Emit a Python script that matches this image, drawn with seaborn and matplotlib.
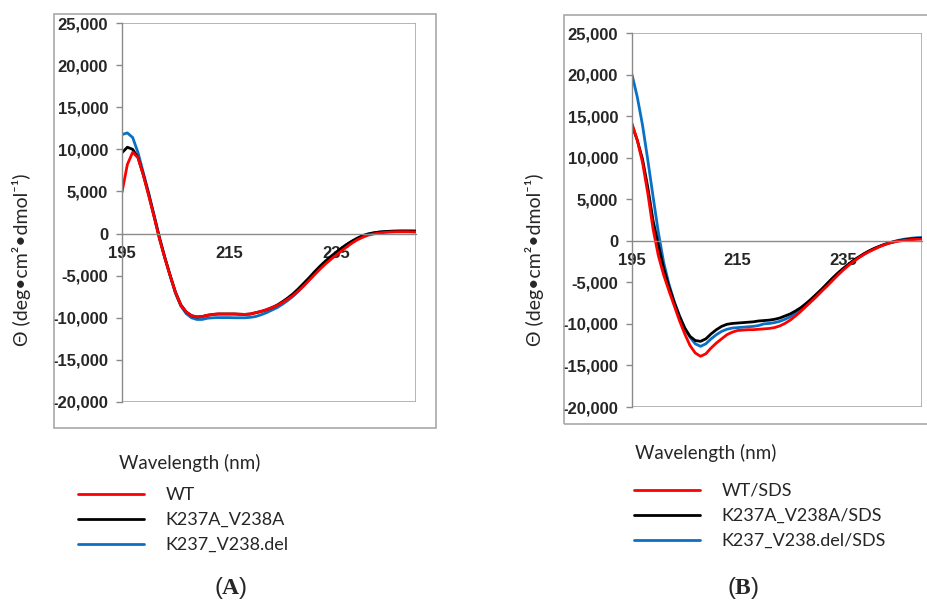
import numpy as np
import pandas as pd
import seaborn as sns
import matplotlib.pyplot as plt
from matplotlib.patches import Rectangle
from matplotlib.ticker import FuncFormatter

# wavelength grid (nm)
wavelength = list(range(195, 251))

# panel A - no SDS
wt = [4900, 8200, 9650, 9000, 6900, 4500, 2000, -600, -2900, -5000,
      -7000, -8500, -9300, -9750, -9900, -9850, -9700, -9600, -9550, -9550,
      -9550, -9550, -9580, -9600, -9550, -9400, -9250, -9050, -8800, -8550,
      -8200, -7800, -7350, -6800, -6200, -5550, -4900, -4250, -3650, -3100,
      -2600, -2100, -1600, -1150, -750, -450, -200, -50, 50, 120,
      170, 200, 210, 210, 200, 180]
k237a_v238a = [9600, 10250, 10000, 9000, 6950, 4600, 2050, -550, -2850, -4950,
               -6950, -8450, -9300, -9750, -9900, -9850, -9700, -9600, -9550, -9550,
               -9550, -9550, -9580, -9600, -9550, -9400, -9250, -9050, -8800, -8500,
               -8100, -7650, -7150, -6550, -5900, -5250, -4550, -3900, -3300, -2750,
               -2250, -1750, -1300, -900, -550, -250, -50, 80, 170, 230,
               270, 290, 300, 300, 300, 290]
k237_v238_del = [11750, 11950, 11400, 9600, 7200, 4800, 2200, -400, -2800, -5000,
                 -7100, -8600, -9500, -10000, -10200, -10200, -10050, -10000, -9980, -9980,
                 -9980, -10000, -10000, -10000, -9950, -9850, -9650, -9400, -9100, -8800,
                 -8400, -7950, -7450, -6850, -6200, -5500, -4800, -4100, -3450, -2900,
                 -2350, -1850, -1350, -950, -600, -300, -80, 60, 160, 220,
                 260, 280, 300, 300, 300, 290]

# panel B - with SDS
wt_sds = [14100, 12100, 9400, 5700, 1400, -1800, -4100, -6000, -7800, -9600,
          -11200, -12600, -13500, -13900, -13600, -12900, -12300, -11800, -11300, -11000,
          -10800, -10750, -10700, -10700, -10650, -10600, -10550, -10450, -10250, -9950,
          -9550, -9050, -8500, -7900, -7300, -6700, -6050, -5450, -4800, -4150,
          -3550, -3000, -2500, -2050, -1650, -1300, -1000, -700, -450, -250,
          -100, 0, 80, 130, 170, 200]
k237a_v238a_sds = [13900, 12100, 9800, 6400, 2400, -500, -3300, -5500, -7400, -9100,
                   -10500, -11500, -12000, -12100, -11800, -11200, -10700, -10300, -10050, -9950,
                   -9900, -9850, -9800, -9750, -9650, -9600, -9550, -9450, -9300, -9050,
                   -8800, -8450, -8050, -7550, -7000, -6400, -5800, -5150, -4500, -3900,
                   -3350, -2850, -2350, -1950, -1550, -1200, -900, -650, -420, -230,
                   -70, 50, 150, 220, 270, 300]
k237_v238_del_sds = [20000, 17300, 13900, 9700, 5300, 1000, -2600, -5200, -7300, -9000,
                     -10500, -11600, -12400, -12700, -12400, -11800, -11300, -10900, -10650, -10500,
                     -10450, -10400, -10350, -10300, -10200, -10000, -9950, -9850, -9700, -9450,
                     -9150, -8750, -8300, -7800, -7250, -6650, -6000, -5350, -4700, -4100,
                     -3500, -2950, -2450, -2000, -1600, -1250, -950, -650, -400, -200,
                     -30, 120, 230, 310, 370, 400]

labels_a = ['WT', 'K237A_V238A', 'K237_V238.del']
labels_b = ['WT/SDS', 'K237A_V238A/SDS', 'K237_V238.del/SDS']
colors = ['#ff0000', '#000000', '#0a70c6']

sns.set_style('white')
plt.rcParams['font.family'] = ['Liberation Sans', 'DejaVu Sans']
plt.rcParams['mathtext.fontset'] = 'custom'
plt.rcParams['mathtext.rm'] = 'Liberation Serif'
plt.rcParams['mathtext.bf'] = 'Liberation Serif:bold'

fig = plt.figure(figsize=(9.27, 6.04), dpi=100)
W, H = 927, 604
text_font = ['Lato', 'DejaVu Sans']


def px_axes(x0, y0, x1, y1):
    return fig.add_axes([x0 / W, 1 - y1 / H, (x1 - x0) / W, (y1 - y0) / H])


def draw_panel(ax, series, labels, leg_xy, wl_xy, lab_xy, tag_xy, tag):
    df = pd.DataFrame({
        'wl': wavelength * 3,
        'theta': series[0] + series[1] + series[2],
        'sample': [labels[0]] * len(wavelength) + [labels[1]] * len(wavelength)
                  + [labels[2]] * len(wavelength),
    })
    order = [labels[2], labels[1], labels[0]]
    pal = {labels[0]: colors[0], labels[1]: colors[1], labels[2]: colors[2]}
    sns.lineplot(data=df, x='wl', y='theta', hue='sample', hue_order=order,
                 palette=pal, errorbar=None, linewidth=2.0, legend=False, ax=ax)
    for ln in ax.get_lines():
        ln.set_solid_joinstyle('round')
    lines = ax.get_lines()
    handles = [lines[2], lines[1], lines[0]]

    ax.set_xlim(195, 250)
    ax.set_ylim(-20000, 25000)
    ax.set_xlabel('')
    ax.set_ylabel('')
    ax.set_xticks([195, 215, 235])
    ax.set_yticks(np.arange(-20000, 25001, 5000))
    ax.yaxis.set_major_formatter(FuncFormatter(lambda v, p: f'{int(v):,}'))
    for s in ['top', 'right']:
        ax.spines[s].set_visible(False)
    ax.spines['bottom'].set_position(('data', 0))
    ax.spines['bottom'].set_color('#8a8a8a')
    ax.spines['left'].set_color('#8a8a8a')
    ax.spines['bottom'].set_linewidth(1.0)
    ax.spines['left'].set_linewidth(1.0)
    ax.add_patch(Rectangle((0, 0), 1, 1, transform=ax.transAxes, fill=False,
                           edgecolor='#a8a8a8', linewidth=1.2, zorder=0.5))
    ax.tick_params(axis='x', direction='out', length=4, width=1, color='#8a8a8a',
                   pad=5, labelsize=12)
    ax.tick_params(axis='y', direction='out', length=4, width=1, color='#8a8a8a',
                   pad=6, labelsize=12, left=True)
    for t in ax.get_xticklabels() + ax.get_yticklabels():
        t.set_fontweight('bold')

    ax.legend(handles, labels, loc='upper left', bbox_to_anchor=(leg_xy[0] / W, 1 - leg_xy[1] / H),
              bbox_transform=fig.transFigure, frameon=False, borderpad=0, borderaxespad=0,
              handlelength=3.65, handletextpad=1.2, labelspacing=0.5,
              prop={'family': text_font, 'size': 13})

    fig.text(wl_xy[0] / W, 1 - wl_xy[1] / H, 'Wavelength (nm)', ha='left', va='center',
             fontsize=13.5, family=text_font)
    fig.text(lab_xy[0] / W, 1 - lab_xy[1] / H, 'Θ (deg•cm²•dmol⁻¹)', ha='center', va='center',
             rotation=90, fontsize=14, family=text_font)
    fig.text(tag_xy[0] / W, 1 - tag_xy[1] / H, r'($\mathbf{' + tag + '}$)', ha='center',
             va='center', fontsize=17)


# outer frames
fig.patches.append(Rectangle((54 / W, 1 - 428 / H), 382 / W, 414 / H, transform=fig.transFigure,
                             fill=False, edgecolor='#a8a8a8', linewidth=1.2))
fig.patches.append(Rectangle((564 / W, 1 - 424 / H), 380 / W, 409 / H, transform=fig.transFigure,
                             fill=False, edgecolor='#a8a8a8', linewidth=1.2))

ax_a = px_axes(122, 23, 416, 402)
ax_b = px_axes(632, 33, 922, 407)

draw_panel(ax_a, [wt, k237a_v238a, k237_v238_del], labels_a,
           (78, 487), (119, 463), (22, 260), (231, 588), 'A')
draw_panel(ax_b, [wt_sds, k237a_v238a_sds, k237_v238_del_sds], labels_b,
           (634, 483), (635, 453), (535, 260), (743, 588), 'B')

fig.savefig('out.png', dpi=100)
